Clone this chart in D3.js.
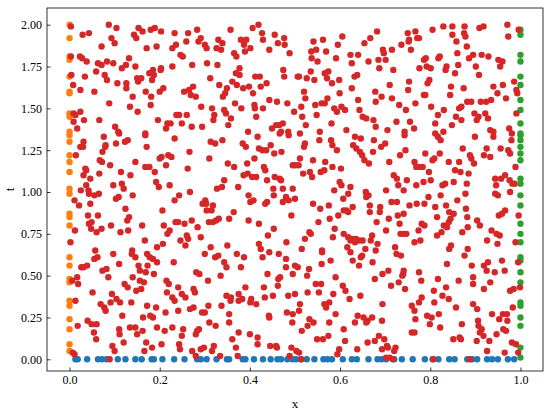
<!DOCTYPE html>
<html>
<head>
<meta charset="utf-8">
<script src="https://cdn.jsdelivr.net/npm/d3@7"></script>
<style>
  body { margin: 0; background: #fff; }
  svg { display: block; font-family: "Liberation Serif", "Times New Roman", serif; }
</style>
</head>
<body>
<svg id="chart" width="550" height="413"></svg>
<script>
// collocation points: interior (x, t)
const interiorPts = [
  [0.003,1.99],[0.087,2.00],[0.104,1.98],[0.153,1.98],[0.162,1.96],[0.189,1.98],[0.180,1.97],[0.203,1.96],[0.233,1.95],
  [0.043,1.95],[0.029,1.94],[0.093,1.92],[0.100,1.89],[0.143,1.94],[0.148,1.92],[0.071,1.87],[0.171,1.86],[0.193,1.87],
  [0.228,1.86],[0.236,1.88],[0.003,1.81],[0.023,1.81],[0.028,1.80],[0.038,1.78],[0.063,1.77],[0.071,1.76],[0.083,1.78],
  [0.097,1.77],[0.132,1.80],[0.116,1.74],[0.125,1.76],[0.146,1.75],[0.203,1.74],[0.228,1.75],[0.004,1.70],[0.034,1.69],
  [0.059,1.72],[0.078,1.70],[0.083,1.67],[0.150,1.68],[0.159,1.68],[0.152,1.66],[0.177,1.71],[0.185,1.73],[0.187,1.70],
  [0.183,1.67],[0.202,1.73],[0.106,1.65],[0.126,1.65],[0.008,1.64],[0.024,1.61],[0.055,1.60],[0.126,1.62],[0.140,1.57],
  [0.181,1.57],[0.200,1.60],[0.208,1.62],[0.169,1.60],[0.088,1.53],[0.134,1.51],[0.180,1.52],[0.009,1.47],[0.013,1.46],
  [0.024,1.48],[0.151,1.48],[0.009,1.42],[0.032,1.43],[0.066,1.43],[0.196,1.43],[0.217,1.41],[0.224,1.41],[0.214,1.38],
  [0.101,1.39],[0.108,1.36],[0.017,1.38],[0.237,1.46],[0.168,1.35],
  [0.283,1.97],[0.263,1.95],[0.357,1.97],[0.406,1.98],[0.419,2.00],[0.427,1.95],[0.455,1.94],[0.429,1.91],[0.476,1.92],
  [0.291,1.92],[0.286,1.90],[0.259,1.90],[0.330,1.91],[0.339,1.89],[0.380,1.91],[0.392,1.91],[0.387,1.88],[0.300,1.88],
  [0.304,1.86],[0.326,1.86],[0.336,1.85],[0.401,1.86],[0.389,1.84],[0.443,1.85],[0.462,1.89],[0.477,1.88],[0.488,1.83],
  [0.246,1.82],[0.251,1.81],[0.365,1.83],[0.370,1.81],[0.272,1.76],[0.305,1.77],[0.328,1.76],[0.377,1.74],[0.369,1.71],
  [0.377,1.70],[0.312,1.68],[0.412,1.69],[0.422,1.69],[0.474,1.73],[0.476,1.69],[0.506,1.69],[0.361,1.66],[0.332,1.64],
  [0.371,1.64],[0.385,1.62],[0.398,1.63],[0.349,1.62],[0.345,1.59],[0.340,1.57],[0.407,1.59],[0.424,1.63],[0.437,1.65],
  [0.274,1.63],[0.265,1.61],[0.254,1.60],[0.269,1.58],[0.280,1.57],[0.443,1.55],[0.460,1.54],[0.483,1.53],[0.498,1.48],
  [0.367,1.53],[0.381,1.50],[0.410,1.52],[0.411,1.50],[0.429,1.50],[0.292,1.51],[0.316,1.50],[0.343,1.49],[0.347,1.47],
  [0.358,1.44],[0.414,1.45],[0.243,1.46],[0.260,1.46],[0.321,1.46],[0.319,1.43],[0.249,1.41],[0.271,1.39],[0.294,1.39],
  [0.352,1.40],[0.396,1.36],[0.449,1.38],[0.458,1.40],[0.465,1.40],[0.473,1.41],[0.469,1.36],[0.485,1.36],
  [0.682,1.96],[0.667,1.92],[0.654,1.89],[0.605,1.93],[0.595,1.88],[0.541,1.90],[0.562,1.91],[0.547,1.85],[0.536,1.84],
  [0.569,1.84],[0.537,1.80],[0.550,1.78],[0.591,1.80],[0.623,1.82],[0.640,1.82],[0.626,1.77],[0.663,1.78],[0.685,1.79],
  [0.695,1.85],[0.697,1.83],[0.701,1.79],[0.715,1.85],[0.736,1.88],[0.750,1.95],[0.753,1.91],[0.752,1.90],[0.767,1.96],
  [0.771,1.92],[0.757,1.85],[0.687,1.74],[0.718,1.73],[0.509,1.69],[0.526,1.68],[0.535,1.72],[0.543,1.67],[0.566,1.71],
  [0.574,1.72],[0.571,1.68],[0.582,1.65],[0.598,1.67],[0.632,1.69],[0.638,1.70],[0.626,1.62],[0.520,1.60],[0.523,1.56],
  [0.514,1.51],[0.516,1.45],[0.524,1.40],[0.545,1.52],[0.548,1.46],[0.559,1.53],[0.566,1.53],[0.572,1.56],[0.587,1.50],
  [0.593,1.48],[0.603,1.51],[0.611,1.49],[0.599,1.59],[0.640,1.55],[0.643,1.49],[0.650,1.45],[0.658,1.44],[0.674,1.43],
  [0.679,1.39],[0.678,1.60],[0.679,1.54],[0.692,1.57],[0.710,1.64],[0.715,1.56],[0.731,1.52],[0.753,1.66],[0.751,1.61],
  [0.746,1.49],[0.767,1.53],[0.725,1.42],[0.755,1.42],[0.764,1.38],[0.581,1.41],[0.555,1.36],[0.614,1.37],[0.705,1.37],
  [0.743,1.36],
  [0.805,1.97],[0.829,1.99],[0.849,1.99],[0.876,1.99],[0.909,1.98],[0.918,1.99],[0.971,2.00],[0.996,1.97],[0.973,1.93],
  [0.775,1.92],[0.849,1.94],[0.875,1.95],[0.878,1.93],[0.858,1.90],[0.881,1.87],[0.860,1.83],[0.895,1.82],[0.886,1.80],
  [0.914,1.82],[0.929,1.81],[0.951,1.79],[0.960,1.78],[0.955,1.75],[0.818,1.80],[0.821,1.81],[0.786,1.79],[0.790,1.80],
  [0.776,1.74],[0.792,1.75],[0.801,1.74],[0.836,1.75],[0.834,1.73],[0.862,1.76],[0.901,1.75],[0.855,1.71],[0.908,1.70],
  [0.798,1.67],[0.794,1.65],[0.846,1.63],[0.874,1.62],[0.940,1.63],[0.961,1.64],[0.986,1.66],[0.991,1.61],[0.993,1.59],
  [0.949,1.59],[0.968,1.56],[0.786,1.58],[0.789,1.58],[0.844,1.58],[0.882,1.54],[0.891,1.54],[0.912,1.54],[0.924,1.54],
  [0.935,1.55],[0.802,1.51],[0.864,1.50],[0.869,1.51],[0.830,1.49],[0.817,1.46],[0.857,1.45],[0.898,1.47],[0.922,1.47],
  [0.991,1.47],[0.811,1.41],[0.848,1.40],[0.869,1.43],[0.903,1.43],[0.907,1.45],[0.928,1.44],[0.933,1.37],[0.940,1.36],
  [0.975,1.38],[0.829,1.36],
  [0.024,1.27],[0.030,1.27],[0.031,1.30],[0.076,1.33],[0.080,1.28],[0.079,1.27],[0.073,1.24],[0.110,1.35],[0.103,1.29],
  [0.123,1.30],[0.129,1.31],[0.168,1.34],[0.171,1.27],[0.233,1.32],[0.014,1.22],[0.067,1.19],[0.072,1.18],[0.090,1.16],
  [0.146,1.18],[0.200,1.20],[0.204,1.21],[0.219,1.22],[0.226,1.21],[0.214,1.16],[0.035,1.14],[0.037,1.13],[0.031,1.10],
  [0.046,1.08],[0.066,1.11],[0.114,1.12],[0.135,1.10],[0.168,1.15],[0.177,1.15],[0.189,1.12],[0.192,1.06],[0.198,1.03],
  [0.222,1.04],[0.037,1.04],[0.042,1.01],[0.025,1.01],[0.043,0.99],[0.055,0.98],[0.065,0.99],[0.097,1.04],[0.116,1.05],
  [0.120,1.02],[0.103,0.96],[0.109,0.97],[0.140,0.98],[0.011,0.95],[0.021,0.92],[0.046,0.93],[0.124,0.90],[0.233,0.95],
  [0.206,0.89],[0.041,0.86],[0.063,0.86],[0.132,0.85],[0.128,0.83],[0.235,0.82],[0.043,0.81],[0.049,0.82],[0.048,0.78],
  [0.060,0.76],[0.071,0.78],[0.092,0.80],[0.113,0.76],[0.130,0.77],[0.161,0.80],[0.209,0.80],[0.217,0.75],[0.222,0.77],
  [0.012,0.77],[0.002,0.70],[0.167,0.71],[0.194,0.67],[0.207,0.69],[0.057,0.65],[0.139,0.65],
  [0.313,1.30],[0.323,1.29],[0.339,1.31],[0.266,1.24],[0.310,1.20],[0.262,1.14],[0.384,1.29],[0.391,1.27],[0.417,1.33],
  [0.420,1.26],[0.428,1.25],[0.436,1.25],[0.446,1.28],[0.454,1.23],[0.470,1.24],[0.466,1.35],[0.486,1.34],[0.351,1.17],
  [0.365,1.15],[0.394,1.17],[0.410,1.20],[0.431,1.15],[0.434,1.13],[0.495,1.16],[0.501,1.16],[0.343,1.07],[0.386,1.10],
  [0.395,1.11],[0.405,1.09],[0.414,1.09],[0.438,1.07],[0.455,1.09],[0.466,1.08],[0.469,1.07],[0.473,1.02],[0.495,1.02],
  [0.452,1.02],[0.453,0.98],[0.480,0.97],[0.486,0.95],[0.473,0.94],[0.500,0.96],[0.327,1.02],[0.338,1.03],[0.374,1.03],
  [0.267,1.00],[0.243,0.98],[0.397,0.98],[0.401,0.94],[0.408,0.95],[0.434,0.93],[0.438,0.94],[0.295,0.93],[0.301,0.95],
  [0.303,0.93],[0.318,0.92],[0.315,0.89],[0.304,0.89],[0.364,0.88],[0.354,0.84],[0.492,0.86],[0.241,0.82],[0.255,0.81],
  [0.271,0.83],[0.309,0.82],[0.318,0.82],[0.325,0.83],[0.331,0.84],[0.397,0.83],[0.420,0.81],[0.284,0.79],[0.453,0.78],
  [0.260,0.74],[0.263,0.72],[0.291,0.73],[0.440,0.74],[0.246,0.71],[0.257,0.68],[0.350,0.68],[0.313,0.67],[0.420,0.69],
  [0.424,0.66],[0.481,0.70],
  [0.511,1.35],[0.522,1.29],[0.520,1.27],[0.554,1.31],[0.580,1.31],[0.583,1.28],[0.593,1.25],[0.633,1.33],[0.646,1.32],
  [0.675,1.31],[0.700,1.29],[0.691,1.27],[0.629,1.28],[0.636,1.26],[0.644,1.24],[0.649,1.22],[0.673,1.24],[0.743,1.34],
  [0.733,1.22],[0.745,1.25],[0.654,1.19],[0.664,1.17],[0.709,1.18],[0.765,1.18],[0.769,1.15],[0.511,1.20],[0.540,1.19],
  [0.567,1.18],[0.583,1.15],[0.602,1.14],[0.508,1.16],[0.518,1.11],[0.533,1.12],[0.538,1.09],[0.557,1.12],[0.565,1.13],
  [0.719,1.10],[0.726,1.08],[0.748,1.07],[0.599,1.06],[0.603,1.04],[0.623,1.03],[0.587,1.01],[0.618,0.99],[0.607,0.96],
  [0.657,1.00],[0.663,0.98],[0.658,0.97],[0.702,1.01],[0.729,1.04],[0.741,1.01],[0.769,1.04],[0.540,0.93],[0.556,0.90],
  [0.575,0.92],[0.628,0.91],[0.608,0.89],[0.614,0.89],[0.618,0.88],[0.596,0.86],[0.666,0.92],[0.689,0.91],[0.688,0.88],
  [0.666,0.88],[0.714,0.94],[0.726,0.94],[0.754,0.92],[0.770,0.93],[0.728,0.86],[0.741,0.87],[0.552,0.82],[0.577,0.84],
  [0.681,0.82],[0.708,0.84],[0.732,0.81],[0.588,0.78],[0.702,0.77],[0.532,0.76],[0.535,0.75],[0.522,0.72],[0.584,0.73],
  [0.608,0.75],[0.618,0.73],[0.623,0.71],[0.627,0.72],[0.635,0.72],[0.633,0.70],[0.650,0.71],[0.643,0.71],[0.616,0.67],
  [0.656,0.66],[0.668,0.71],[0.671,0.74],[0.683,0.69],[0.722,0.67],[0.734,0.75],[0.747,0.75],[0.741,0.75],[0.765,0.70],
  [0.560,0.65],[0.515,0.66],
  [0.811,1.35],[0.817,1.33],[0.823,1.31],[0.899,1.33],[0.940,1.33],[0.981,1.35],[0.980,1.31],[0.872,1.26],[0.925,1.26],
  [0.956,1.26],[0.973,1.25],[0.977,1.23],[0.789,1.23],[0.805,1.19],[0.809,1.20],[0.821,1.23],[0.888,1.22],[0.891,1.20],
  [0.919,1.22],[0.933,1.21],[0.897,1.17],[0.864,1.18],[0.841,1.18],[0.783,1.15],[0.775,1.15],[0.855,1.13],[0.867,1.12],
  [0.797,1.12],[0.885,1.11],[0.989,1.15],[0.966,1.10],[0.944,1.08],[0.957,1.08],[0.976,1.07],[0.982,1.05],[0.987,1.05],
  [0.946,1.04],[0.785,1.06],[0.801,1.07],[0.827,1.04],[0.833,1.05],[0.852,1.06],[0.881,1.05],[0.977,1.00],[0.944,0.99],
  [0.950,0.98],[0.823,0.98],[0.878,0.99],[0.796,0.97],[0.860,0.95],[0.787,0.93],[0.811,0.91],[0.835,0.92],[0.879,0.90],
  [0.842,0.88],[0.852,0.87],[0.815,0.85],[0.882,0.85],[0.845,0.84],[0.841,0.82],[0.952,0.86],[0.959,0.87],[0.966,0.89],
  [0.996,0.86],[0.904,0.83],[0.781,0.81],[0.787,0.80],[0.830,0.80],[0.837,0.79],[0.883,0.79],[0.910,0.80],[0.871,0.76],
  [0.825,0.76],[0.774,0.77],[0.936,0.77],[0.947,0.75],[0.954,0.74],[0.815,0.74],[0.926,0.71],[0.949,0.69],[0.989,0.70],
  [0.846,0.68],[0.842,0.66],[0.883,0.66],[0.778,0.71],
  [0.055,0.60],[0.062,0.61],[0.097,0.63],[0.138,0.63],[0.146,0.61],[0.172,0.63],[0.178,0.61],[0.185,0.60],[0.194,0.58],
  [0.231,0.58],[0.026,0.55],[0.031,0.55],[0.039,0.56],[0.073,0.53],[0.082,0.54],[0.086,0.49],[0.110,0.57],[0.153,0.56],
  [0.156,0.53],[0.173,0.56],[0.169,0.52],[0.017,0.49],[0.006,0.47],[0.019,0.45],[0.140,0.49],[0.156,0.47],[0.165,0.46],
  [0.187,0.51],[0.215,0.47],[0.220,0.45],[0.122,0.45],[0.129,0.43],[0.148,0.41],[0.159,0.42],[0.051,0.40],[0.094,0.39],
  [0.216,0.40],[0.228,0.37],[0.233,0.35],[0.013,0.35],[0.069,0.33],[0.091,0.34],[0.104,0.36],[0.112,0.34],[0.137,0.34],
  [0.077,0.31],[0.080,0.29],[0.172,0.32],[0.192,0.31],[0.213,0.28],[0.117,0.26],[0.163,0.25],[0.179,0.26],[0.185,0.25],
  [0.040,0.23],[0.049,0.21],[0.060,0.21],[0.018,0.20],[0.110,0.18],[0.134,0.19],[0.146,0.19],[0.162,0.17],[0.194,0.19],
  [0.211,0.17],[0.228,0.19],[0.054,0.16],[0.059,0.12],[0.111,0.15],[0.150,0.15],[0.120,0.10],[0.170,0.10],[0.204,0.09],
  [0.183,0.07],[0.095,0.08],[0.100,0.05],[0.166,0.05],[0.007,0.04],[0.011,0.03],[0.089,0.00],
  [0.300,0.63],[0.323,0.61],[0.330,0.62],[0.371,0.63],[0.387,0.61],[0.428,0.61],[0.443,0.64],[0.464,0.63],[0.480,0.60],
  [0.348,0.55],[0.343,0.58],[0.380,0.55],[0.500,0.56],[0.480,0.55],[0.281,0.52],[0.288,0.51],[0.335,0.50],[0.439,0.51],
  [0.467,0.49],[0.463,0.48],[0.495,0.51],[0.307,0.47],[0.390,0.43],[0.431,0.43],[0.462,0.44],[0.241,0.43],[0.249,0.39],
  [0.257,0.37],[0.275,0.42],[0.278,0.40],[0.348,0.38],[0.358,0.37],[0.357,0.35],[0.375,0.39],[0.375,0.35],[0.383,0.36],
  [0.403,0.36],[0.401,0.34],[0.414,0.33],[0.433,0.37],[0.451,0.38],[0.485,0.38],[0.500,0.39],[0.337,0.32],[0.241,0.29],
  [0.267,0.30],[0.275,0.31],[0.294,0.28],[0.300,0.28],[0.308,0.32],[0.354,0.27],[0.442,0.26],[0.443,0.25],[0.482,0.28],
  [0.495,0.27],[0.310,0.22],[0.324,0.20],[0.354,0.22],[0.494,0.22],[0.252,0.18],[0.249,0.14],[0.287,0.18],[0.283,0.17],
  [0.280,0.15],[0.375,0.16],[0.400,0.15],[0.417,0.13],[0.361,0.12],[0.417,0.09],[0.369,0.07],[0.445,0.08],[0.458,0.08],
  [0.460,0.07],[0.492,0.07],[0.243,0.09],[0.245,0.06],[0.291,0.06],[0.298,0.07],[0.316,0.05],[0.320,0.08],[0.272,0.05],
  [0.280,0.02],[0.334,0.02],[0.373,0.02],[0.488,0.02],[0.503,0.05],
  [0.560,0.64],[0.623,0.64],[0.679,0.65],[0.725,0.63],[0.735,0.62],[0.628,0.59],[0.646,0.61],[0.649,0.62],[0.642,0.56],
  [0.672,0.58],[0.559,0.57],[0.579,0.59],[0.531,0.54],[0.527,0.50],[0.506,0.55],[0.694,0.51],[0.707,0.53],[0.741,0.53],
  [0.740,0.51],[0.738,0.50],[0.590,0.49],[0.677,0.48],[0.730,0.46],[0.546,0.45],[0.558,0.45],[0.606,0.44],[0.713,0.44],
  [0.744,0.42],[0.528,0.40],[0.553,0.40],[0.585,0.39],[0.612,0.41],[0.645,0.38],[0.621,0.36],[0.511,0.33],[0.509,0.29],
  [0.565,0.33],[0.576,0.34],[0.569,0.31],[0.694,0.33],[0.759,0.32],[0.765,0.29],[0.590,0.27],[0.639,0.26],[0.652,0.25],
  [0.658,0.22],[0.661,0.23],[0.671,0.25],[0.633,0.22],[0.693,0.23],[0.767,0.24],[0.532,0.24],[0.541,0.22],[0.528,0.20],
  [0.576,0.22],[0.515,0.17],[0.608,0.18],[0.759,0.16],[0.765,0.16],[0.549,0.12],[0.562,0.12],[0.574,0.14],[0.611,0.11],
  [0.661,0.10],[0.677,0.11],[0.686,0.14],[0.698,0.12],[0.704,0.08],[0.706,0.07],[0.723,0.07],[0.720,0.05],[0.693,0.06],
  [0.598,0.06],[0.594,0.03],[0.638,0.06],[0.702,0.01],[0.710,0.01],[0.717,0.00],[0.509,0.04],[0.514,0.00],
  [0.876,0.62],[0.959,0.59],[0.995,0.58],[0.919,0.56],[0.928,0.58],[0.892,0.56],[0.837,0.57],[0.925,0.53],[0.943,0.52],
  [0.965,0.53],[0.775,0.52],[0.895,0.49],[0.817,0.48],[0.780,0.47],[0.863,0.47],[0.895,0.45],[0.933,0.46],[0.835,0.43],
  [0.919,0.42],[0.977,0.41],[0.985,0.42],[0.999,0.43],[0.808,0.41],[0.827,0.38],[0.781,0.37],[0.841,0.36],[0.775,0.34],
  [0.809,0.34],[0.895,0.33],[0.904,0.30],[0.857,0.31],[0.983,0.31],[0.961,0.27],[0.970,0.27],[0.937,0.27],[0.819,0.27],
  [0.793,0.26],[0.803,0.25],[0.953,0.24],[0.971,0.23],[0.906,0.23],[0.799,0.21],[0.870,0.21],[0.907,0.20],[0.822,0.19],
  [0.914,0.18],[0.962,0.18],[0.968,0.17],[0.910,0.16],[0.947,0.15],[0.918,0.14],[0.865,0.13],[0.868,0.12],[0.851,0.12],
  [0.903,0.11],[0.931,0.11],[0.981,0.10],[0.990,0.09],[0.926,0.05],[0.965,0.04],[0.995,0.04],[0.807,0.00],[0.888,0.00]
];

// boundary points x = 0 (t values)
const leftT = [2.00,1.92,1.81,1.79,1.69,1.60,1.59,1.47,1.45,1.36,1.34,1.30,1.22,1.18,1.12,1.02,0.99,0.87,0.85,0.80,
  0.61,0.56,0.48,0.46,0.35,0.32,0.24,0.18,0.09,0.05];
// boundary points x = 1 (t values)
const rightT = [1.97,1.94,1.82,1.78,1.69,1.64,1.55,1.49,1.41,1.35,1.34,1.31,1.27,1.23,1.19,1.08,1.05,0.98,0.92,0.81,
  0.75,0.70,0.61,0.59,0.52,0.46,0.34,0.32,0.25,0.20,0.07,0.01];
// initial points t = 0 (x values)
const bottomX = [0.013,0.018,0.039,0.063,0.072,0.082,0.107,0.124,0.146,0.160,0.182,0.187,0.206,0.232,
  0.255,0.283,0.291,0.304,0.326,0.349,0.354,0.384,0.390,0.409,0.429,0.446,0.461,0.469,0.483,0.494,0.502,
  0.513,0.526,0.543,0.563,0.572,0.582,0.606,0.626,0.637,0.663,0.683,0.692,0.702,0.720,0.737,0.761,
  0.788,0.805,0.818,0.842,0.854,0.882,0.893,0.904,0.926,0.937,0.950,0.972,0.986];

const xTicks = [0, 0.2, 0.4, 0.6, 0.8, 1.0];
const tTicks = [0, 0.25, 0.5, 0.75, 1.0, 1.25, 1.5, 1.75, 2.0];

const box = { left: 47, right: 543, top: 8, bottom: 371 };
const svg = d3.select("#chart");

const x = d3.scaleLinear().domain([-0.05, 1.05]).range([box.left, box.right]);
const y = d3.scaleLinear().domain([-0.07, 2.1]).range([box.bottom, box.top]);

const r = 3.2;
const groups = [
  { pts: bottomX.map((v) => [v, 0]), color: "#1f77b4" },
  { pts: leftT.map((v) => [0, v]), color: "#ff7f0e" },
  { pts: rightT.map((v) => [1, v]), color: "#2ca02c" },
  { pts: interiorPts, color: "#d62728" },
];

groups.forEach(({ pts, color }) => {
  svg
    .append("g")
    .attr("fill", color)
    .selectAll("circle")
    .data(pts)
    .join("circle")
    .attr("cx", (d) => x(d[0]))
    .attr("cy", (d) => y(d[1]))
    .attr("r", r);
});

const xAxis = svg
  .append("g")
  .attr("transform", `translate(0,${box.bottom})`)
  .call(d3.axisBottom(x).tickValues(xTicks).tickFormat(d3.format(".1f")).tickSizeInner(-3.5).tickSizeOuter(0).tickPadding(4));

const yAxis = svg
  .append("g")
  .attr("transform", `translate(${box.left},0)`)
  .call(d3.axisLeft(y).tickValues(tTicks).tickFormat(d3.format(".2f")).tickSizeInner(-3.5).tickSizeOuter(0).tickPadding(5));

[xAxis, yAxis].forEach((g) => {
  g.select(".domain").remove();
  g.selectAll("text").attr("font-size", 12).attr("font-family", "Liberation Serif").attr("fill", "#000");
  g.selectAll("line").attr("stroke", "#000").attr("stroke-width", 0.8);
});

svg
  .append("rect")
  .attr("x", box.left)
  .attr("y", box.top)
  .attr("width", box.right - box.left)
  .attr("height", box.bottom - box.top)
  .attr("fill", "none")
  .attr("stroke", "#000")
  .attr("stroke-width", 0.8);

svg
  .append("text")
  .attr("x", (box.left + box.right) / 2)
  .attr("y", 408)
  .attr("text-anchor", "middle")
  .attr("font-size", 13)
  .text("x");

svg
  .append("text")
  .attr("transform", `translate(14,${(box.top + box.bottom) / 2}) rotate(-90)`)
  .attr("text-anchor", "middle")
  .attr("font-size", 13)
  .text("t");
</script>
</body>
</html>
